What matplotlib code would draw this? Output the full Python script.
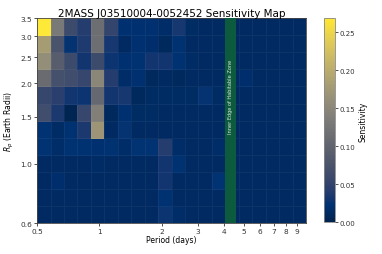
import numpy as np
import matplotlib
matplotlib.use("Agg")
import matplotlib.pyplot as plt
from matplotlib.ticker import FixedLocator, FixedFormatter, NullLocator

# Bin edges (log-spaced)
period_edges = np.logspace(np.log10(0.5), np.log10(10.0), 21)
radius_edges = np.logspace(np.log10(0.6), np.log10(3.5), 13)

b = 0.012
# Sensitivity per cell: rows from lowest radius bin to highest, 20 period bins each
row0 = [b, b, b, b, b, b, b, b, b, 0.028, 0.016, b, b, b, b, b, b, b, b, b]
row1 = [b, b, b, b, b, b, b, b, b, 0.022, b, b, b, b, b, b, b, b, b, b]
row2 = [b, 0.018, b, b, b, b, b, b, b, 0.030, b, b, b, 0.025, b, b, b, b, b, b]
row3 = [b, b, b, b, 0.015, b, b, b, b, 0.030, 0.022, b, b, b, b, b, b, b, b, b]
row4 = [0.025, 0.016, 0.024, 0.024, 0.020, 0.022, 0.016, 0.025, 0.025, 0.040, 0.016, b, b, 0.016, b, b, b, b, b, b]
row5 = [0.025, 0.015, 0.022, 0.035, 0.170, b, 0.026, b, b, b, b, b, b, b, b, b, b, b, b, b]
row6 = [0.065, 0.035, 0.004, 0.055, 0.140, 0.010, 0.020, 0.014, 0.014, b, b, b, b, b, b, b, b, b, b, b]
row7 = [0.055, 0.045, 0.030, 0.028, 0.105, 0.030, 0.032, 0.010, 0.014, 0.014, 0.014, 0.014, 0.026, 0.014, b, b, b, b, b, b]
row8 = [0.110, 0.070, 0.065, 0.055, 0.150, 0.040, 0.016, 0.020, 0.010, b, 0.010, b, b, b, b, 0.018, b, b, b, b]
row9 = [0.160, 0.090, 0.060, 0.030, 0.060, 0.028, 0.020, 0.022, 0.030, 0.030, 0.022, 0.015, b, b, b, b, b, b, b, b]
row10 = [0.180, 0.075, 0.026, 0.036, 0.115, 0.032, 0.012, 0.020, 0.018, 0.010, 0.022, b, b, b, b, b, b, b, b, b]
row11 = [0.268, 0.130, 0.060, 0.040, 0.115, 0.052, 0.020, 0.020, 0.020, 0.016, 0.032, 0.014, b, b, b, b, b, b, b, b]
sensitivity = np.array([row0, row1, row2, row3, row4, row5, row6, row7, row8, row9, row10, row11])

x_ticks = [0.5, 1, 2, 3, 4, 5, 6, 7, 8, 9]
x_labels = ["0.5", "1", "2", "3", "4", "5", "6", "7", "8", "9"]
y_ticks = [0.6, 1.0, 1.5, 2.0, 2.5, 3.0, 3.5]
y_labels = ["0.6", "1.0", "1.5", "2.0", "2.5", "3.0", "3.5"]
cbar_ticks = [0.0, 0.05, 0.10, 0.15, 0.20, 0.25]
hz_inner = (4.07, 4.59)

fig = plt.figure(figsize=(3.82, 2.55), dpi=100)
ax = fig.add_axes([0.097, 0.121, 0.704, 0.804])
cax = fig.add_axes([0.848, 0.124, 0.029, 0.800])

mesh = ax.pcolormesh(period_edges, radius_edges, sensitivity, cmap="cividis",
                     vmin=0, vmax=sensitivity.max(), shading="flat",
                     edgecolors=(1, 1, 1, 0.05), linewidth=0.4)
ax.set_xscale("log")
ax.set_yscale("log")
ax.set_xlim(0.5, 10)
ax.set_ylim(0.6, 3.5)

ax.axvspan(hz_inner[0], hz_inner[1], color="#0d5b3f", zorder=3, lw=0)
ax.text(np.sqrt(hz_inner[0] * hz_inner[1]), 1.8, "Inner Edge of Habitable Zone",
        rotation=90, ha="center", va="center", color="#dfe8e2", fontsize=3.6, zorder=4)

ax.xaxis.set_major_locator(FixedLocator(x_ticks))
ax.xaxis.set_major_formatter(FixedFormatter(x_labels))
ax.xaxis.set_minor_locator(NullLocator())
ax.yaxis.set_major_locator(FixedLocator(y_ticks))
ax.yaxis.set_major_formatter(FixedFormatter(y_labels))
ax.yaxis.set_minor_locator(NullLocator())
ax.tick_params(labelsize=5.3, length=2.5, width=0.6, pad=1, colors="#333333")
for s in ax.spines.values():
    s.set_color("#444444")
    s.set_linewidth(0.6)

ax.set_xlabel("Period (days)", fontsize=5.5, labelpad=1)
ax.set_ylabel(r"$R_p$ (Earth Radii)", fontsize=5.5, labelpad=3)
ax.set_title("2MASS J03510004-0052452 Sensitivity Map", fontsize=7.5, pad=1.5)

cb = fig.colorbar(mesh, cax=cax, ticks=cbar_ticks)
cb.ax.set_yticklabels([f"{t:.2f}" for t in cbar_ticks])
cb.ax.tick_params(labelsize=5, length=2.5, width=0.6, pad=1, colors="#333333")
cb.outline.set_edgecolor("#888888")
cb.outline.set_linewidth(0.6)
cb.set_label("Sensitivity", fontsize=5.5, labelpad=2)

fig.savefig("out.png", dpi=100)
